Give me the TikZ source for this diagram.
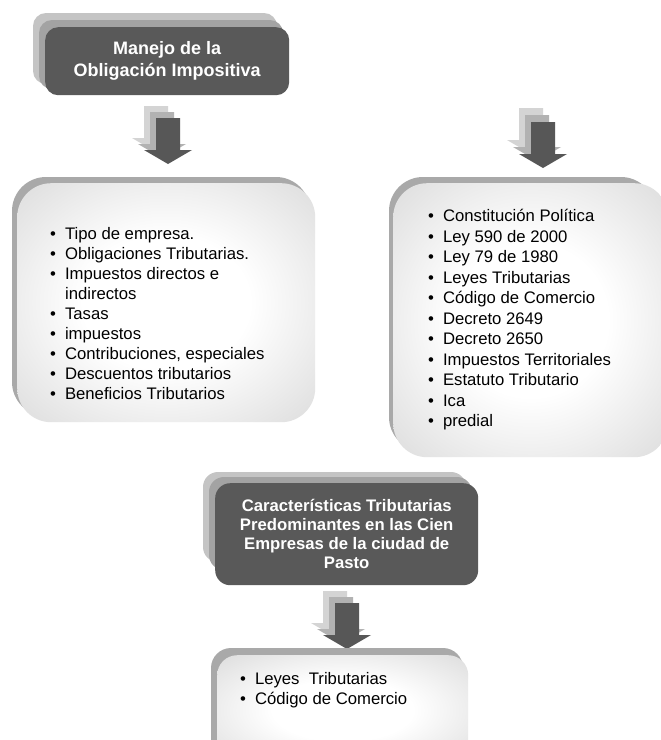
\documentclass[tikz,border=0pt]{standalone}
\usepackage{fontspec}
\setmainfont{Liberation Sans}
\definecolor{darkbox}{HTML}{595959}
\definecolor{midlayer}{HTML}{A3A3A3}
\definecolor{backlayer}{HTML}{C4C4C4}
\definecolor{boxgray}{HTML}{C6C6C6}
\definecolor{boxshadow}{HTML}{A9A9A9}
\definecolor{arrowfront}{HTML}{575757}
\definecolor{arrowmid}{HTML}{B2B2B2}
\definecolor{arrowback}{HTML}{D4D4D4}
\pgfdeclareradialshading{boxglow}{\pgfpoint{0bp}{0bp}}{color(0bp)=(white); color(14bp)=(white); color(50bp)=(boxgray); color(80bp)=(boxgray)}
\newcommand\fatarrow[3]{\fill[#3] (#1,#2) ++(-12,0) -- ++(24,0) -- ++(0,32) -- ++(12,0) -- ++(-24,14) -- ++(-24,-14) -- ++(12,0) -- cycle;}
\begin{document}
\begin{tikzpicture}[x=1pt,y=-1pt,
  titlebox/.style={fill=darkbox, rounded corners=13pt, text=white, inner sep=0pt, align=center, anchor=north west},
  listbox/.style={shade, shading=boxglow, rounded corners=#1, inner sep=0pt, anchor=north west},
  listtext/.style={inner sep=0pt, anchor=north west, text=black},
  bigfont/.style={font=\fontsize{18}{22}\selectfont\bfseries},
  midfont/.style={font=\fontsize{16.7}{19}\selectfont\bfseries}
]
\clip (0,0) rectangle (661,740);
\fill[white] (0,0) rectangle (661,740);

% ---- title 1 ----
\fill[backlayer, rounded corners=13pt] (33,13) rectangle (277,84);
\fill[midlayer, rounded corners=13pt] (39,20) rectangle (283,89);
\node[titlebox, bigfont, minimum width=244pt, minimum height=68pt] (t1) at (45,27) {Manejo de la\\Obligación Impositiva};

% ---- arrows ----
\fatarrow{156}{106}{arrowback}
\fatarrow{162}{112}{arrowmid}
\fatarrow{168}{118}{arrowfront}

\fatarrow{531}{108}{arrowback}
\fatarrow{537}{115}{arrowmid}
\fatarrow{543}{122}{arrowfront}

% ---- left list box ----
\fill[boxshadow, rounded corners=34pt] (12,177) rectangle (310,416);
\node[listbox=34pt, minimum width=298pt, minimum height=239pt] (lb) at (17,183) {};
\node[listtext, font=\fontsize{16.7}{20}\selectfont] (lt) at (50,225) {%
\begin{tabular}{@{}l@{\hspace{9pt}}l@{}}
• & Tipo de empresa.\\
• & Obligaciones Tributarias.\\
• & Impuestos directos e\\
  & indirectos\\
• & Tasas\\
• & impuestos\\
• & Contribuciones, especiales\\
• & Descuentos tributarios\\
• & Beneficios Tributarios
\end{tabular}};

% ---- right list box ----
\fill[boxshadow, rounded corners=34pt] (389,177) rectangle (655,451);
\node[listbox=34pt, minimum width=275pt, minimum height=274pt] (rb) at (393,183) {};
\node[listtext, font=\fontsize{16.7}{20.5}\selectfont] (rt) at (428,207) {%
\begin{tabular}{@{}l@{\hspace{9pt}}l@{}}
• & Constitución Política\\
• & Ley 590 de 2000\\
• & Ley 79 de 1980\\
• & Leyes Tributarias\\
• & Código de Comercio\\
• & Decreto 2649\\
• & Decreto 2650\\
• & Impuestos Territoriales\\
• & Estatuto Tributario\\
• & Ica\\
• & predial
\end{tabular}};

% ---- title 2 ----
\fill[backlayer, rounded corners=15pt] (203,472) rectangle (466,562);
\fill[midlayer, rounded corners=15pt] (209,477) rectangle (472,570);
\node[titlebox, midfont, rounded corners=15pt, minimum width=263pt, minimum height=102pt] (t2) at (215,483) {Características Tributarias\\Predominantes en las Cien\\Empresas de la ciudad de\\Pasto};

% ---- bottom arrow ----
\fatarrow{335}{591}{arrowback}
\fatarrow{341}{597}{arrowmid}
\fatarrow{347}{603}{arrowfront}

% ---- bottom list box ----
\fill[boxshadow, rounded corners=20pt] (211,648) rectangle (463,770);
\node[listbox=20pt, minimum width=251pt, minimum height=110pt] (bb) at (217,655) {};
\node[listtext, font=\fontsize{16.7}{20}\selectfont] (bt) at (240,670) {%
\begin{tabular}{@{}l@{\hspace{9pt}}l@{}}
• & Leyes\ \ Tributarias\\
• & Código de Comercio
\end{tabular}};
\end{tikzpicture}
\end{document}
